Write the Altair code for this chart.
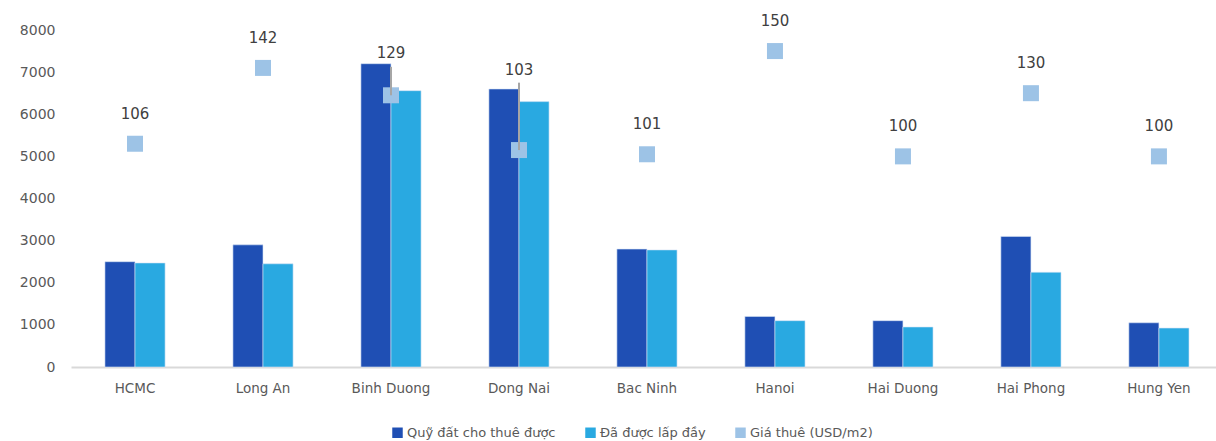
import altair as alt
import pandas as pd

regions = ["HCMC", "Long An", "Binh Duong", "Dong Nai", "Bac Ninh",
           "Hanoi", "Hai Duong", "Hai Phong", "Hung Yen"]
land_supply = [2500, 2900, 7200, 6600, 2800, 1200, 1100, 3100, 1050]
land_filled = [2470, 2450, 6560, 6300, 2780, 1100, 950, 2250, 925]
rent_price = [106, 142, 129, 103, 101, 150, 100, 130, 100]

S1 = "Quỹ đất cho thuê được"
S2 = "Đã được lấp đầy"
S3 = "Giá thuê (USD/m2)"

# hidden secondary axis: 0-160 USD/m2 drawn against 0-8000 of the primary axis
SECONDARY_RATIO = 8000 / 160

# labels that were moved away from their marker (label centre, leader top) in USD/m2
moved = {"Binh Duong": (149, 142.5), "Dong Nai": (141, 135)}

bars = pd.DataFrame({
    "region": regions * 2,
    "series": [S1] * len(regions) + [S2] * len(regions),
    "value": land_supply + land_filled,
})
pts = pd.DataFrame({"region": regions, "price": rent_price})
pts["moved"] = pts["region"].isin(list(moved))
pts["label_y"] = [moved[r][0] if r in moved else 0 for r in regions]
pts["leader_top"] = [moved[r][1] if r in moved else 0 for r in regions]

FONT = "DejaVu Sans"
GREY = "#595959"

color_scale = alt.Scale(domain=[S1, S2, S3], range=["#1f4fb4", "#29a9e1", "#9dc3e6"])
x_scale = alt.Scale(paddingInner=0.53, paddingOuter=0.238, align=0.557)
y_scale = alt.Scale(domain=[0, 8000])

x_enc = alt.X("region:N", sort=regions, title=None, scale=x_scale,
              axis=alt.Axis(labelAngle=0, labelFontSize=13.5, labelColor=GREY,
                            labelFont=FONT, ticks=False, domain=True, grid=False,
                            domainColor="#d9d9d9", domainWidth=2, labelPadding=14))

bar_layer = alt.Chart(bars).mark_bar(stroke="#d6e4f5", strokeWidth=0.6).encode(
    x=x_enc,
    xOffset=alt.XOffset("series:N", sort=[S1, S2]),
    y=alt.Y("value:Q", title=None, scale=y_scale,
            axis=alt.Axis(values=list(range(0, 8001, 1000)), format="d", grid=False,
                          domain=False, domainWidth=0, domainColor="white",
                          ticks=False, labelFontSize=14,
                          labelColor=GREY, labelFont=FONT, labelPadding=16)),
    color=alt.Color("series:N", scale=color_scale,
                    legend=alt.Legend(title=None, orient="none", direction="horizontal",
                                      legendX=320, legendY=396, symbolType="square",
                                      symbolSize=110, labelFontSize=13,
                                      labelColor=GREY, labelFont=FONT,
                                      columnPadding=28, symbolStrokeWidth=0,
                                      labelOffset=3)),
)

base_pts = alt.Chart(pts).transform_calculate(
    p2=f"datum.price * {SECONDARY_RATIO}",
    ly2=f"datum.label_y * {SECONDARY_RATIO}",
    lt2=f"datum.leader_top * {SECONDARY_RATIO}",
)
x_plain = alt.X("region:N", sort=regions)

leader = base_pts.transform_filter("datum.moved").mark_rule(
    color="#a6a6a6", strokeWidth=2).encode(
    x=x_plain,
    y=alt.Y("lt2:Q", scale=y_scale),
    y2=alt.Y2("p2:Q"),
)

squares = base_pts.mark_square(size=256, opacity=1, filled=True).encode(
    x=x_plain,
    y=alt.Y("p2:Q", scale=y_scale),
    color=alt.ColorDatum(S3, type="nominal"),
)

labels = base_pts.transform_filter("!datum.moved").mark_text(
    dy=-30, fontSize=15, color="#404040", font=FONT).encode(
    x=x_plain,
    y=alt.Y("p2:Q", scale=y_scale),
    text=alt.Text("price:Q"),
)
labels_moved = base_pts.transform_filter("datum.moved").mark_text(
    fontSize=15, color="#404040", font=FONT).encode(
    x=x_plain,
    y=alt.Y("ly2:Q", scale=y_scale),
    text=alt.Text("price:Q"),
)

chart = alt.layer(bar_layer, squares, leader, labels, labels_moved).properties(
    width=1145, height=337,
    background="white",
    autosize=alt.AutoSizeParams(type="none"),
    padding={"left": 71, "top": 30, "right": 0, "bottom": 74},
).configure_view(stroke=None, strokeWidth=0).configure_axis(
    grid=False, domain=False).configure_axisY(domain=False, grid=False)

chart.save("out.html", embed_options={"renderer": "svg", "actions": False})
